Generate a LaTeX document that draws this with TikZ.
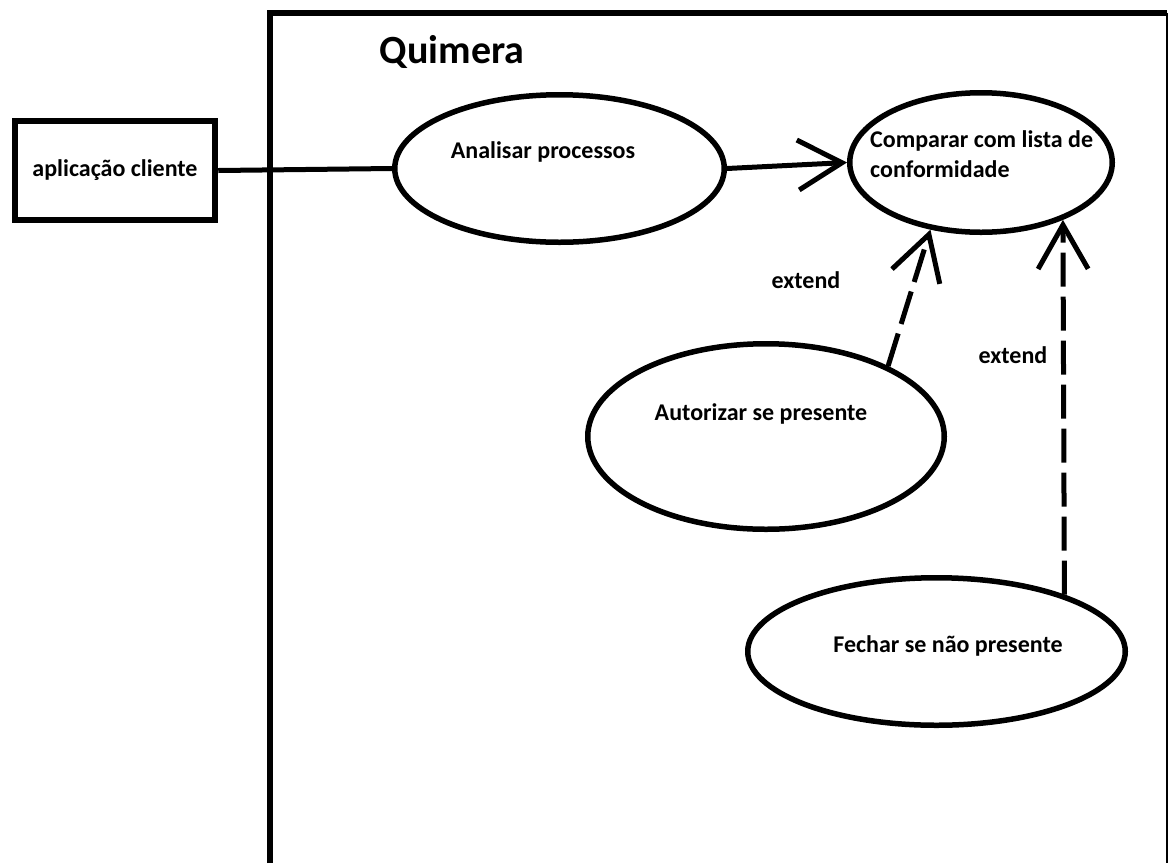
\documentclass[tikz,border=0pt]{standalone}
\usepackage{fontspec}
\setmainfont{Carlito}
\usetikzlibrary{arrows.meta,shapes.geometric}
\begin{document}
\begin{tikzpicture}[x=1pt,y=-1pt,
  font=\bfseries\fontsize{24}{30}\selectfont,
  usecase/.style={ellipse, draw, line width=5.5pt, inner sep=0pt},
  actorbox/.style={draw, line width=6.5pt, inner sep=0pt,
    minimum width=200pt, minimum height=99pt},
  label text/.style={anchor=base, inner sep=0pt},
  assoc/.style={line width=5pt},
  opentip/.style={-{Straight Barb[length=44pt,width=50pt,line width=5pt]},
    line width=5pt},
  extendline/.style={opentip, dash pattern=on 34pt off 10pt},
]
\useasboundingbox (0,0) rectangle (1170,863);

% system boundary (open at the bottom)
\draw[line width=6.5pt] (270,863) -- (270,13) -- (1167,13);
\draw[line width=2.5pt] (1167,13) -- (1167,863);
\node[font=\bfseries\fontsize{40}{48}\selectfont, anchor=base, inner sep=0pt]
  (title) at (452,63) {Quimera};

% actor
\node[actorbox] (actor) at (115,170.5) {aplicação cliente};

% use cases
\node[usecase, minimum width=329.5pt, minimum height=147.5pt] (e1) at (559.5,168.5) {};
\node[usecase, minimum width=262.5pt, minimum height=139.5pt] (e2) at (981,162.5) {};
\node[usecase, minimum width=356.5pt, minimum height=185.5pt] (e3) at (766,436.5) {};
\node[usecase, minimum width=377.5pt, minimum height=147.5pt] (e4) at (936.5,651.5) {};

\node[label text] (t1) at (543,158) {Analisar processos};
\node[label text, anchor=base west] (t2) at (870,147)
  {\vtop{\hbox{Comparar com lista de}\hbox{conformidade}}};
\node[label text] (t3) at (761,420) {Autorizar se presente};
\node[label text] (t4) at (948,652) {Fechar se não presente};

\node[label text] (x1) at (806,288) {extend};
\node[label text] (x2) at (1013,363) {extend};

% connectors
\draw[assoc] (actor.east) -- (e1.west);
\draw[opentip] (e1.east) -- (e2.west);
\draw[extendline] (e3.30) -- (e2.233);
\draw[extendline] (e4.24) -- (e2.325);
\end{tikzpicture}
\end{document}
